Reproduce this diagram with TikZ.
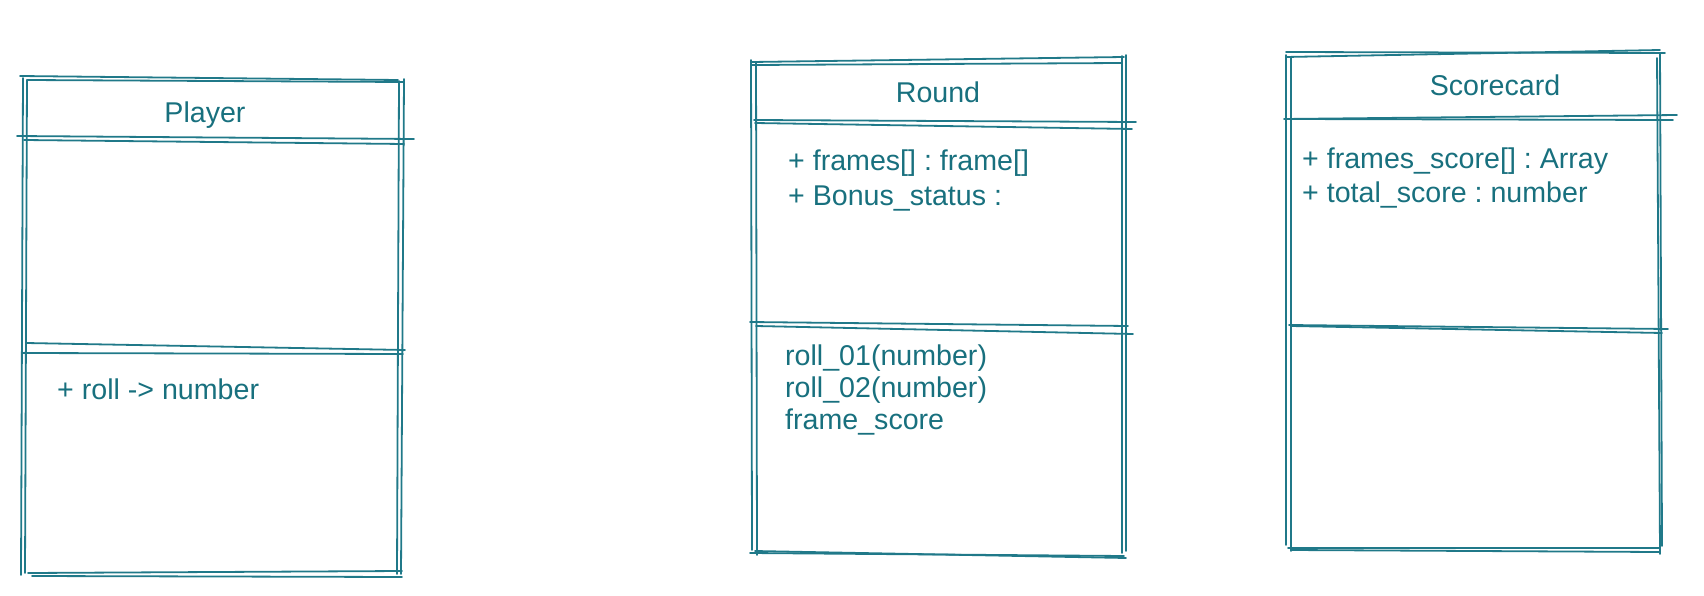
\documentclass[tikz,border=0pt]{standalone}
\usepackage{fontspec}
\setmainfont{Liberation Sans}
\frenchspacing
\definecolor{sketch}{RGB}{32,121,137}
\definecolor{ink}{RGB}{24,112,126}
\newcommand{\sk}[8]{%
  \draw[skline] (#1,#2) -- (#3,#4);
  \draw[skline] (#1+#5,#2+#6) -- (#3+#7,#4+#8);}
\tikzset{
  skline/.style={draw=sketch, line width=1.8pt, line cap=round},
  lbl/.style={text=ink, inner sep=0pt, font=\fontsize{28.6}{34}\selectfont\frenchspacing},
  title/.style={lbl, anchor=base},
  item/.style={lbl, anchor=base west},
}
\begin{document}
\begin{tikzpicture}[x=1pt,y=-1pt]
\useasboundingbox (0,0) rectangle (1704,596);
% ---------- Player ----------
\sk{20}{76}{398}{80}{7}{4}{5}{2}
\sk{23}{78}{21}{575}{4}{2}{4}{-2}
\sk{399}{81}{397}{574}{5}{-2}{4}{0}
\sk{28}{573}{402}{571}{4}{3}{0}{6}
\sk{17}{136}{414}{139}{7}{4}{-10}{5}
\sk{26}{343}{405}{350}{-4}{10}{-2}{4}
\node[title] (playerT) at (205,123) {Player};
\node[item] (playerM) at (57,399) {+ roll -> number};
% ---------- Round ----------
\sk{752}{62}{1124}{57}{0}{3}{-2}{6}
\sk{751}{60}{752}{550}{5}{2}{5}{5}
\sk{1122}{56}{1122}{553}{4}{-1}{4}{-2}
\sk{750}{553}{1124}{556}{5}{-2}{2}{2}
\sk{754}{120}{1136}{122}{1}{3}{-4}{7}
\sk{750}{322}{1128}{326}{6}{4}{5}{8}
\node[title] (roundT) at (938,103) {Round};
\node[item] (roundA1) at (788,171) {+ frames[] : frame[]};
\node[item] (roundA2) at (788,205) {+ Bonus\_status :};
\node[item] (roundM1) at (785,365) {roll\_01(number)};
\node[item] (roundM2) at (785,397) {roll\_02(number)};
\node[item] (roundM3) at (785,429) {frame\_score};
% ---------- Scorecard ----------
\sk{1286}{52}{1665}{53}{0}{5}{-5}{-3}
\sk{1286}{55}{1286}{545}{5}{2}{5}{6}
\sk{1660}{54}{1662}{546}{-3}{4}{-2}{8}
\sk{1288}{548}{1660}{548}{3}{2}{-1}{4}
\sk{1284}{119}{1677}{115}{2}{0}{-4}{5}
\sk{1289}{325}{1668}{329}{2}{1}{-6}{4}
\node[title] (scoreT) at (1495,96) {Scorecard};
\node[item] (scoreA1) at (1302,168) {+ frames\_score[] : Array};
\node[item] (scoreA2) at (1302,202) {+ total\_score : number};
\end{tikzpicture}
\end{document}
